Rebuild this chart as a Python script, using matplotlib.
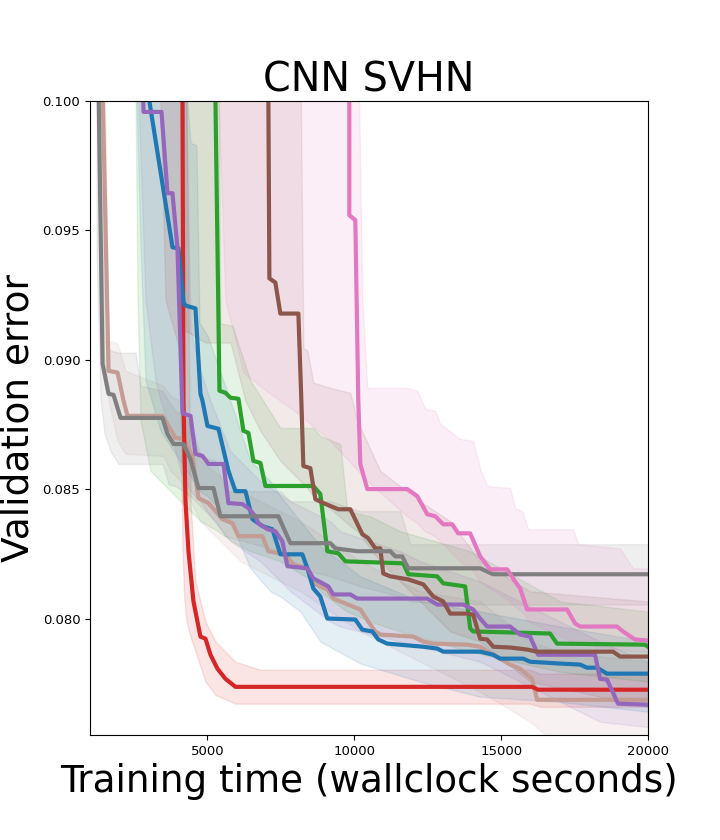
import matplotlib
matplotlib.use("Agg")
import matplotlib.pyplot as plt

# ---------------- data ----------------
gray_x = [1285, 1428, 1632, 1802, 2040, 3469, 3639, 3843, 4183, 4421, 4693, 5204, 5442, 7414, 7823, 9183,
          9353, 10102, 11224, 11394, 11632, 11836, 14285, 14728, 20000]
gray_y = [0.1010, 0.08984, 0.08868, 0.08864, 0.08775, 0.08775, 0.08713, 0.08674, 0.08674, 0.08616, 0.08504,
          0.08504, 0.08395, 0.08395, 0.08291, 0.08291, 0.08271, 0.08260, 0.08260, 0.08240, 0.08240, 0.08194,
          0.08194, 0.08171, 0.08171]

tan_x = [1420, 1632, 1938, 2142, 2278, 3469, 3911, 4183, 4489, 4693, 5034, 5510, 5850, 6054, 6870, 7074,
         7414, 7653, 7925, 8401, 8605, 9081, 9285, 10204, 10476, 10714, 10884, 12006, 12347, 12687, 13843,
         14285, 14728, 15306, 15646, 16054, 16224, 20000]
tan_y = [0.1010, 0.08957, 0.08950, 0.08841, 0.08783, 0.08783, 0.08698, 0.08694, 0.08628, 0.08465, 0.08446,
         0.08384, 0.08368, 0.08318, 0.08318, 0.08260, 0.08252, 0.08248, 0.08209, 0.08194, 0.08136, 0.08112,
         0.08077, 0.08035, 0.07988, 0.07950, 0.07938, 0.07930, 0.07911, 0.07903, 0.07899, 0.07891, 0.07860,
         0.07822, 0.07806, 0.07767, 0.07686, 0.07686]

blue_x = [2950, 3809, 4013, 4183, 4251, 4591, 4761, 4830, 5000, 5374, 5714, 5952, 6292, 6530, 6870, 7210,
          7482, 8231, 8401, 8605, 8843, 9081, 10034, 10272, 10612, 10816, 11122, 12347, 12823, 13027, 14285,
          14728, 14966, 15748, 15986, 17007, 17687, 17925, 18265, 18605, 20000]
blue_y = [0.1005, 0.09434, 0.09430, 0.09221, 0.09209, 0.09198, 0.08868, 0.08841, 0.08744, 0.08733, 0.08570,
          0.08492, 0.08492, 0.08384, 0.08357, 0.08345, 0.08248, 0.08248, 0.08194, 0.08116, 0.08085, 0.08000,
          0.07996, 0.07957, 0.07950, 0.07919, 0.07903, 0.07891, 0.07884, 0.07872, 0.07872, 0.07860, 0.07845,
          0.07845, 0.07833, 0.07826, 0.07822, 0.07810, 0.07810, 0.07787, 0.07787]

purple_x = [2789, 2823, 3435, 3639, 3809, 3979, 4149, 4183, 4421, 4591, 4830, 5034, 5544, 5714, 6190, 6394,
            6632, 6734, 7040, 7312, 7551, 7721, 8401, 8605, 9115, 9285, 9864, 10102, 12483, 12823, 13707,
            14047, 14285, 14524, 15306, 15646, 15986, 16258, 18197, 18367, 18605, 18979, 20000]
purple_y = [0.1010, 0.09957, 0.09957, 0.09643, 0.09643, 0.09430, 0.08795, 0.08791, 0.08783, 0.08636, 0.08628,
            0.08597, 0.08597, 0.08446, 0.08442, 0.08426, 0.08395, 0.08368, 0.08345, 0.08337, 0.08298, 0.08202,
            0.08194, 0.08155, 0.08124, 0.08093, 0.08093, 0.08077, 0.08077, 0.08054, 0.08054, 0.08035, 0.08000,
            0.07969, 0.07969, 0.07938, 0.07930, 0.07860, 0.07860, 0.07767, 0.07764, 0.07671, 0.07667]

red_x = [4149, 4149, 4183, 4251, 4353, 4523, 4761, 4932, 5102, 5340, 5612, 5952, 16054, 16258, 20000]
red_y = [0.1010, 0.1000, 0.08841, 0.08453, 0.08260, 0.08066, 0.07930, 0.07922, 0.07860, 0.07806, 0.07767,
         0.07736, 0.07736, 0.07725, 0.07725]

green_x = [5272, 5272, 5408, 5612, 5782, 6054, 6224, 6394, 6564, 6802, 6972, 8605, 8843, 9081, 9455, 9694,
           11666, 11836, 12823, 13027, 13775, 13945, 14047, 16666, 16904, 19898, 20000]
green_y = [0.1010, 0.1000, 0.08880, 0.08872, 0.08853, 0.08849, 0.08725, 0.08717, 0.08609, 0.08601, 0.08512,
           0.08512, 0.08481, 0.08260, 0.08252, 0.08221, 0.08213, 0.08171, 0.08163, 0.08136, 0.08124, 0.07962,
           0.07950, 0.07942, 0.07903, 0.07899, 0.07891]

brown_x = [7074, 7074, 7108, 7312, 7482, 8095, 8197, 8265, 8503, 8673, 8945, 9455, 9864, 10272, 10476, 10714,
           10884, 10986, 11224, 11836, 12347, 12687, 13027, 13265, 13843, 14047, 14285, 14524, 14728, 15306,
           15884, 16224, 18809, 19047, 20000]
brown_y = [0.1010, 0.1000, 0.09314, 0.09298, 0.09178, 0.09178, 0.08841, 0.08589, 0.08581, 0.08461, 0.08446,
           0.08422, 0.08422, 0.08326, 0.08310, 0.08271, 0.08271, 0.08174, 0.08163, 0.08151, 0.08132, 0.08085,
           0.08066, 0.08019, 0.08019, 0.08015, 0.07922, 0.07919, 0.07891, 0.07888, 0.07880, 0.07872, 0.07872,
           0.07853, 0.07853]

pink_x = [9830, 9830, 9830, 10034, 10136, 10204, 10442, 11802, 12142, 12483, 12755, 13027, 13333, 13537,
          13945, 14285, 14626, 15204, 15476, 15646, 15884, 17245, 17517, 17687, 18945, 19149, 19557, 20000]
pink_y = [0.1010, 0.1000, 0.09558, 0.09539, 0.08841, 0.08597, 0.08500, 0.08500, 0.08473, 0.08403, 0.08395,
          0.08364, 0.08364, 0.08329, 0.08329, 0.08240, 0.08190, 0.08190, 0.08143, 0.08116, 0.08035, 0.08035,
          0.07981, 0.07969, 0.07969, 0.07950, 0.07919, 0.07915]

# uncertainty bands: x, lower, upper
gray_bx = [1224, 1360, 1496, 1700, 1972, 2551, 2721, 3469, 3673, 3911, 4421, 4761, 5272, 5612, 7482, 7823,
           9183, 10204, 11564, 11904, 14625, 20000]
gray_lo = [0.09422, 0.08841, 0.08713, 0.08647, 0.08597, 0.08597, 0.08597, 0.08597, 0.08519, 0.08512, 0.08473,
           0.08434, 0.08376, 0.08318, 0.08260, 0.08202, 0.08163, 0.08124, 0.08085, 0.08066, 0.08054, 0.08054]
gray_hi = [0.102, 0.102, 0.09074, 0.09035, 0.09027, 0.09027, 0.08899, 0.08880, 0.08841, 0.08802, 0.08764,
           0.08628, 0.08609, 0.08492, 0.08492, 0.08453, 0.08453, 0.08415, 0.08415, 0.08287, 0.08287, 0.08287]

tan_bx = [1360, 1496, 1632, 1938, 2210, 3503, 3741, 4081, 4761, 6122, 8163, 10204, 12245, 14285, 15986,
          17007, 20000]
tan_lo = [0.09229, 0.08996, 0.08841, 0.08686, 0.08636, 0.08628, 0.08570, 0.08531, 0.08376, 0.08221, 0.08105,
          0.07950, 0.07833, 0.07717, 0.07601, 0.07504, 0.07504]
tan_hi = [0.102, 0.102, 0.09074, 0.09062, 0.08957, 0.08899, 0.08860, 0.08841, 0.08609, 0.08492, 0.08376,
          0.08221, 0.08105, 0.08066, 0.07911, 0.07872, 0.07833]

blue_bx = [2585, 2721, 2891, 3401, 4183, 4421, 4625, 4727, 5000, 5782, 6462, 7142, 7482, 8163, 8843, 10204,
           12245, 14285, 17007, 20000]
blue_lo = [0.1000, 0.09422, 0.08919, 0.08725, 0.08589, 0.08550, 0.08512, 0.08492, 0.08473, 0.08376, 0.08194,
           0.08105, 0.08085, 0.08027, 0.07911, 0.07826, 0.07756, 0.07698, 0.07678, 0.07640]
blue_hi = [0.102, 0.102, 0.102, 0.102, 0.102, 0.09837, 0.09829, 0.09143, 0.09093, 0.08841, 0.08609, 0.08531,
           0.08473, 0.08376, 0.08279, 0.08163, 0.08066, 0.08027, 0.07969, 0.07911]

purple_bx = [2653, 2891, 3231, 3401, 3741, 4081, 4251, 4421, 4761, 5102, 5782, 6802, 7823, 9183, 9523, 11564,
             12245, 14285, 16326, 18367, 20000]
purple_lo = [0.1000, 0.09229, 0.08919, 0.08841, 0.08725, 0.08570, 0.08531, 0.08492, 0.08453, 0.08395, 0.08298,
             0.08221, 0.08105, 0.07988, 0.07969, 0.07911, 0.07891, 0.07833, 0.07717, 0.07601, 0.07581]
purple_hi = [0.102, 0.102, 0.102, 0.102, 0.102, 0.102, 0.102, 0.09112, 0.08957, 0.08841, 0.08647, 0.08531,
             0.08453, 0.08376, 0.08337, 0.08260, 0.08221, 0.08143, 0.08027, 0.07911, 0.07833]

red_bx = [3401, 3571, 4013, 4081, 4149, 4217, 4285, 4421, 4591, 4932, 5272, 5952, 6802, 15986, 16326, 20000]
red_lo = [0.1000, 0.09229, 0.09054, 0.08841, 0.08260, 0.08066, 0.07988, 0.07930, 0.07872, 0.07756, 0.07705,
          0.07671, 0.07671, 0.07671, 0.07659, 0.07659]
red_hi = [0.102, 0.102, 0.102, 0.102, 0.102, 0.102, 0.1000, 0.08453, 0.08143, 0.07988, 0.07911, 0.07833,
          0.07802, 0.07802, 0.07787, 0.07787]

green_bx = [2551, 2619, 2721, 3061, 3741, 4761, 5374, 5442, 5850, 6122, 6462, 7482, 8605, 8843, 9523, 9762,
            10544, 11564, 13945, 17007, 20000]
green_lo = [0.1000, 0.09229, 0.08764, 0.08570, 0.08492, 0.08376, 0.08337, 0.08329, 0.08298, 0.08279, 0.08260,
            0.08221, 0.08143, 0.08105, 0.08046, 0.08027, 0.07988, 0.07950, 0.07872, 0.07794, 0.07756]
green_hi = [0.102, 0.102, 0.102, 0.102, 0.102, 0.102, 0.102, 0.09140, 0.09132, 0.09035, 0.08919, 0.08736,
            0.08736, 0.08705, 0.08674, 0.08415, 0.08395, 0.08337, 0.08260, 0.08066, 0.08027]

brown_bx = [4183, 4251, 4932, 5782, 6292, 6802, 7482, 8163, 8265, 8401, 8605, 9285, 9864, 10102, 10884, 12245,
            13265, 14285, 15986, 20000]
brown_lo = [0.1000, 0.09112, 0.09066, 0.09066, 0.08841, 0.08725, 0.08609, 0.08531, 0.08519, 0.08504, 0.08473,
            0.08415, 0.08357, 0.08337, 0.08221, 0.08066, 0.07950, 0.07911, 0.07756, 0.07659]
brown_hi = [0.102, 0.102, 0.102, 0.102, 0.102, 0.102, 0.102, 0.102, 0.09043, 0.09035, 0.08911, 0.08888,
            0.08872, 0.08764, 0.08570, 0.08453, 0.08376, 0.08221, 0.08105, 0.08066]

pink_bx = [5374, 5612, 6224, 6904, 8061, 9183, 10136, 10272, 10442, 11802, 12142, 12415, 12755, 12925, 13605,
           14047, 14285, 14524, 15306, 15476, 15714, 15918, 17449, 17619, 19047, 19489, 20000]
pink_lo = [0.1000, 0.09229, 0.08950, 0.08888, 0.08795, 0.08686, 0.08570, 0.08550, 0.08531, 0.08395, 0.08368,
           0.08337, 0.08318, 0.08298, 0.08221, 0.08182, 0.08143, 0.08124, 0.08066, 0.08046, 0.08027, 0.07988,
           0.07911, 0.07903, 0.07880, 0.07872, 0.07872]
pink_hi = [0.102, 0.102, 0.102, 0.102, 0.102, 0.102, 0.102, 0.09229, 0.08891, 0.08891, 0.08880, 0.08810,
           0.08802, 0.08752, 0.08694, 0.08686, 0.08578, 0.08512, 0.08504, 0.08426, 0.08415, 0.08345, 0.08345,
           0.08287, 0.08271, 0.08194, 0.08194]

title = "CNN SVHN"
xlabel = "Training time (wallclock seconds)"
ylabel = "Validation error"
xticks = [5000, 10000, 15000, 20000]
yticks = [0.080, 0.085, 0.090, 0.095, 0.100]

# drawing order: bottom to top
series = [
    (tan_x, tan_y, tan_bx, tan_lo, tan_hi, "#c49c94"),
    (red_x, red_y, red_bx, red_lo, red_hi, "#d62728"),
    (blue_x, blue_y, blue_bx, blue_lo, blue_hi, "#1f77b4"),
    (green_x, green_y, green_bx, green_lo, green_hi, "#2ca02c"),
    (purple_x, purple_y, purple_bx, purple_lo, purple_hi, "#9467bd"),
    (brown_x, brown_y, brown_bx, brown_lo, brown_hi, "#8c564b"),
    (gray_x, gray_y, gray_bx, gray_lo, gray_hi, "#7f7f7f"),
    (pink_x, pink_y, pink_bx, pink_lo, pink_hi, "#e377c2"),
]

fig = plt.figure(figsize=(7.2, 8.4), dpi=100)
ax = fig.add_axes([0.125, 0.125, 0.775, 0.755])

for x, y, bx, lo, hi, c in series:
    ax.fill_between(bx, lo, hi, color=c, alpha=0.12)
for x, y, bx, lo, hi, c in series:
    ax.plot(x, y, color=c, lw=3)

ax.set_xlim(1000, 20000)
ax.set_ylim(0.0755, 0.100)
ax.set_xticks(xticks)
ax.set_yticks(yticks)
ax.set_yticklabels(["%.3f" % v for v in yticks])
ax.tick_params(labelsize=9.5)
ax.set_title(title, fontsize=28.5)
ax.set_xlabel(xlabel, fontsize=26.8)
ax.set_ylabel(ylabel, fontsize=27)

fig.savefig("out.png", dpi=100)
